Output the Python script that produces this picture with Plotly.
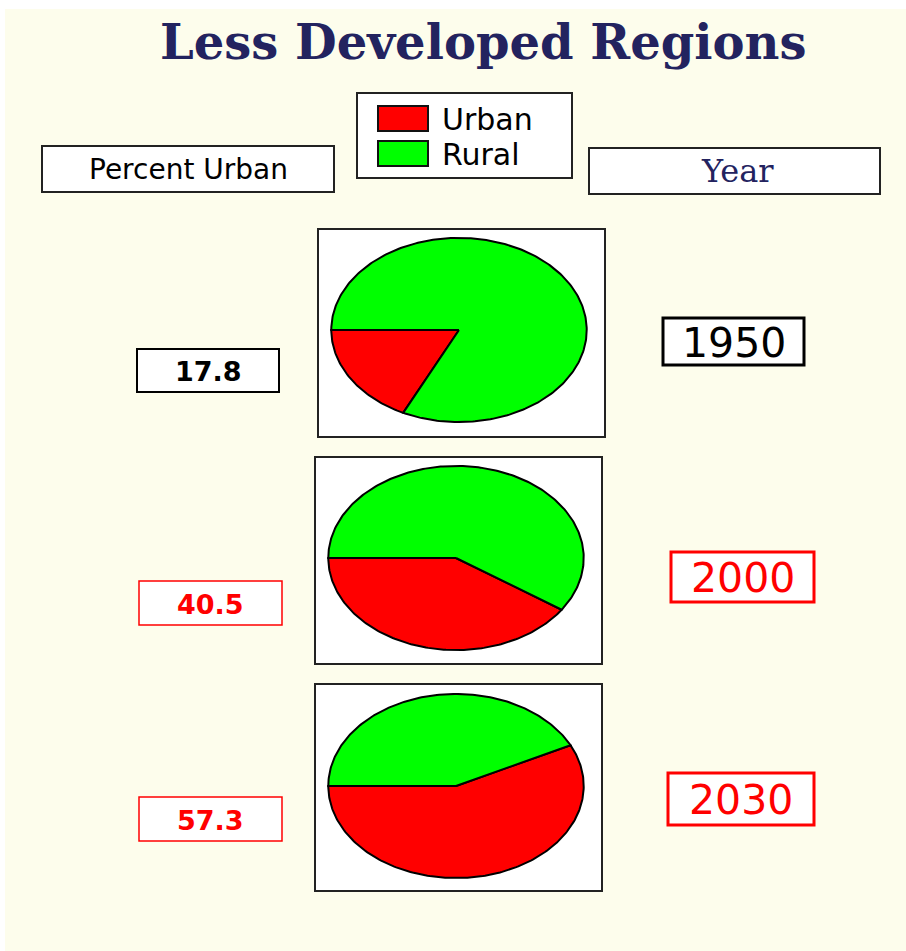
import numpy as np
import plotly.graph_objects as go

# ---- data ----
years = ["1950", "2000", "2030"]
urban_pct = [17.8, 40.5, 57.3]
rural_pct = [82.2, 59.5, 42.7]
categories = ["Urban", "Rural"]
title_text = "Less Developed Regions"

# ---- styles ----
W, H = 906, 951
COL = {"Urban": "#FF0000", "Rural": "#00FF00"}
label_colors = ["#000000", "#FF0000", "#FF0000"]
CREAM = "#FDFDEC"
NAVY = "#23235F"

def px(x):
    return x / W

def py(y):
    return 1 - y / H

# layout positions (pixels) for each row
pie_boxes = [(318, 229, 605, 437), (315, 457, 602, 664), (315, 684, 602, 891)]
pie_centers = [(459, 330), (456, 558), (456, 786)]
RX, RY = 129, 93
val_boxes = [(137, 349, 279, 392), (139, 581, 282, 625), (139, 797, 282, 841)]
year_boxes = [(663, 318, 804, 365), (671, 552, 814, 602), (668, 773, 814, 825)]

fig = go.Figure()
shapes = []
annotations = []

def rect(x0, y0, x1, y1, line_color, line_width, fill="white"):
    shapes.append(dict(type="rect", xref="paper", yref="paper",
                       x0=px(x0), x1=px(x1), y0=py(y1), y1=py(y0),
                       line=dict(color=line_color, width=line_width),
                       fillcolor=fill, layer="below"))

def label(x, y, text, family, size, color, xanchor="center"):
    annotations.append(dict(x=px(x), y=py(y), xref="paper", yref="paper",
                            text=text, showarrow=False,
                            xanchor=xanchor, yanchor="middle",
                            font=dict(family=family, size=size, color=color)))

# cream background
shapes.append(dict(type="rect", xref="paper", yref="paper",
                   x0=px(5), x1=1, y0=0, y1=py(9),
                   line=dict(width=0), fillcolor=CREAM, layer="below"))

# header boxes
rect(42, 146, 334, 192, "#222222", 2)
rect(357, 93, 572, 178, "#222222", 2)
rect(589, 148, 880, 194, "#222222", 2)
label(188, 169, "Percent Urban", "DejaVu Sans", 28, "black")
label(737, 171, "Year", "DejaVu Serif", 32, NAVY)
# legend
for i, cat in enumerate(categories):
    y0 = 106 + i * 35
    shapes.append(dict(type="rect", xref="paper", yref="paper",
                       x0=px(378), x1=px(428), y0=py(y0 + 25), y1=py(y0),
                       line=dict(color="#111111", width=2),
                       fillcolor=COL[cat], layer="above"))
    label(440, y0 + 13, cat, "DejaVu Sans", 30, "black", xanchor="left")

# title
label(483, 42, "<b>%s</b>" % title_text, "DejaVu Serif", 48, NAVY)

# pies drawn as elliptical wedges via per-pie axes
for i, (yr, u, r) in enumerate(zip(years, urban_pct, rural_pct)):
    bx = pie_boxes[i]
    rect(*bx, "#222222", 2)
    cx, cy = pie_centers[i]
    xa = "x" if i == 0 else "x%d" % (i + 1)
    ya = "y" if i == 0 else "y%d" % (i + 1)
    start = 180.0
    for cat, val in (("Urban", u), ("Rural", r)):
        end = start + val * 3.6
        ang = np.radians(np.linspace(start, end, max(int(abs(end - start)), 2) + 1))
        xs = np.concatenate([[0], np.cos(ang), [0]])
        ys = np.concatenate([[0], np.sin(ang), [0]])
        fig.add_trace(go.Scatter(x=xs, y=ys, xaxis=xa, yaxis=ya, mode="lines",
                                 fill="toself", fillcolor=COL[cat],
                                 line=dict(color="black", width=2),
                                 name=cat, showlegend=False, hoverinfo="skip"))
        start = end
    axkey = "xaxis" if i == 0 else "xaxis%d" % (i + 1)
    aykey = "yaxis" if i == 0 else "yaxis%d" % (i + 1)
    fig.update_layout(**{
        axkey: dict(domain=[px(cx - RX), px(cx + RX)], range=[-1.01, 1.01],
                    visible=False, fixedrange=True, anchor=ya),
        aykey: dict(domain=[py(cy + RY), py(cy - RY)], range=[-1.01, 1.01],
                    visible=False, fixedrange=True, anchor=xa),
    })
    # value box
    vb = val_boxes[i]
    rect(*vb, label_colors[i], 2 if i == 0 else 1.5)
    label((vb[0] + vb[2]) / 2, (vb[1] + vb[3]) / 2 + 1, "<b>%.1f</b>" % u,
          "DejaVu Sans", 27, label_colors[i])
    # year box
    yb = year_boxes[i]
    rect(*yb, label_colors[i], 3)
    label((yb[0] + yb[2]) / 2, (yb[1] + yb[3]) / 2 + 1, yr,
          "DejaVu Sans", 41, label_colors[i])

fig.update_layout(width=W, height=H, margin=dict(l=0, r=0, t=0, b=0),
                  paper_bgcolor="white", plot_bgcolor="rgba(0,0,0,0)",
                  showlegend=False, shapes=shapes, annotations=annotations)
fig.write_html("out.html", config={"displayModeBar": False},
               post_script="document.body.style.margin='0';document.body.style.overflow='hidden';")
